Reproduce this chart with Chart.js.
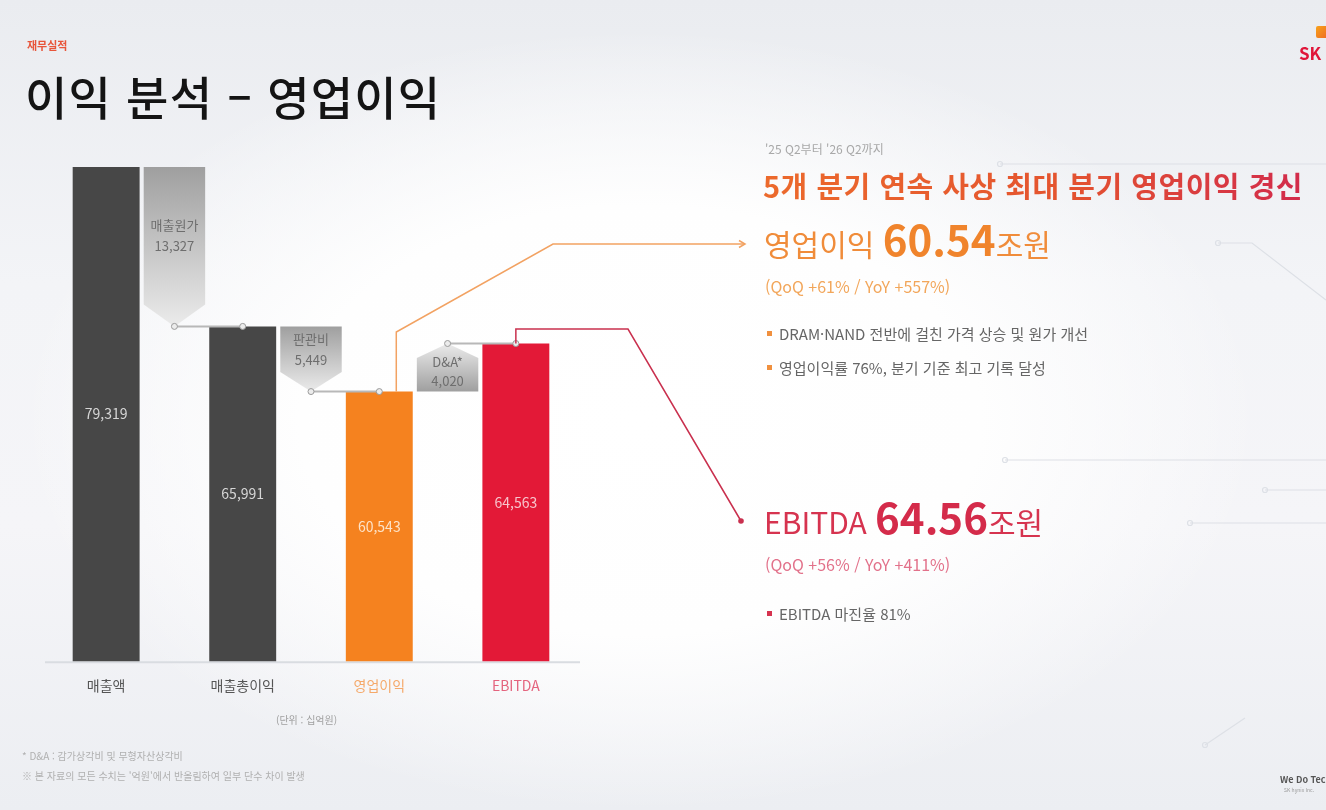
<!DOCTYPE html>
<html lang="ko">
<head>
<meta charset="utf-8">
<title>이익 분석 – 영업이익</title>
<script src="https://cdn.jsdelivr.net/npm/chart.js@4.4.1/dist/chart.umd.min.js"></script>
<style>
  html, body { margin: 0; padding: 0; }
  body {
    width: 1326px; height: 810px; overflow: hidden; position: relative;
    font-family: "Noto Sans CJK KR", "Noto Sans", sans-serif;
    background:
      radial-gradient(ellipse 620px 390px at 640px 420px, #ffffff 0%, #fefefe 55%, rgba(255,255,255,0) 100%),
      linear-gradient(180deg, #eaecf0 0%, #f3f4f7 35%, #f5f5f8 65%, #eceef2 100%);
  }
  #chart { position: absolute; left: 0; top: 0; }
  .t { position: absolute; white-space: nowrap; line-height: 1; }
  .row { position: absolute; display: flex; align-items: baseline; white-space: nowrap; line-height: 1; }
  .row span { line-height: 1; }
  .bullet { position: absolute; width: 5px; height: 5px; }
</style>
</head>
<body>
<canvas id="chart" width="1326" height="810"></canvas>

<div class="t" style="left:27px;top:40px;font-size:11px;font-weight:700;color:#e8553a;">재무실적</div>
<div class="t" style="left:25px;top:72px;font-size:46px;font-weight:500;color:#141414;letter-spacing:1.2px;">이익 분석 – 영업이익</div>

<div class="t" style="left:765px;top:143px;font-size:12px;color:#a8a8a8;">'25 Q2부터 '26 Q2까지</div>
<div class="t" style="left:763px;top:171px;font-size:29px;font-weight:700;letter-spacing:0.5px;background:linear-gradient(90deg,#ec6a2c 0%,#e4542f 55%,#d22b4b 100%);-webkit-background-clip:text;background-clip:text;color:transparent;">5개 분기 연속 사상 최대 분기 영업이익 경신</div>

<div class="row" style="left:764px;top:217px;color:#f08c3a;">
  <span style="font-size:30px;">영업이익&nbsp;</span><span style="font-size:42px;font-weight:700;color:#f0842c;">60.54</span><span style="font-size:30px;">조원</span>
</div>
<div class="t" style="left:765px;top:278px;font-size:16px;color:#f2a65a;">(QoQ +61% / YoY +557%)</div>
<div class="bullet" style="left:767px;top:331px;background:#f0903e;"></div>
<div class="t" style="left:779px;top:326px;font-size:15px;color:#666;">DRAM·NAND 전반에 걸친 가격 상승 및 원가 개선</div>
<div class="bullet" style="left:767px;top:365px;background:#f0903e;"></div>
<div class="t" style="left:779px;top:360px;font-size:15px;color:#666;">영업이익률 76%, 분기 기준 최고 기록 달성</div>

<div class="row" style="left:764px;top:495px;color:#d6334f;">
  <span style="font-size:30px;">EBITDA&nbsp;</span><span style="font-size:42px;font-weight:700;color:#d42b4a;">64.56</span><span style="font-size:30px;">조원</span>
</div>
<div class="t" style="left:765px;top:556px;font-size:16px;color:#e2718a;">(QoQ +56% / YoY +411%)</div>
<div class="bullet" style="left:767px;top:611px;background:#d6334f;"></div>
<div class="t" style="left:779px;top:606px;font-size:15px;color:#666;">EBITDA 마진율 81%</div>

<div class="t" style="left:276px;top:715px;font-size:10px;color:#a0a0a0;">(단위 : 십억원)</div>
<div class="t" style="left:22px;top:751px;font-size:10px;color:#b0b0b0;">* D&amp;A : 감가상각비 및 무형자산상각비</div>
<div class="t" style="left:22px;top:771px;font-size:10px;color:#b0b0b0;">※ 본 자료의 모든 수치는 '억원'에서 반올림하여 일부 단수 차이 발생</div>

<div style="position:absolute;left:1316px;top:26px;width:12px;height:12px;background:linear-gradient(135deg,#f7a21b,#ef6a22);border-radius:2px;"></div>
<div class="t" style="left:1299px;top:44px;font-size:17px;font-weight:700;color:#e0163a;">SK</div>
<div class="t" style="left:1280px;top:775px;font-size:9px;font-weight:700;color:#555;">We Do Technology</div>
<div class="t" style="left:1284px;top:787px;font-size:5px;color:#999;">SK hynix Inc.</div>

<script>
// 단위: 십억원
const categories = ['매출액', '매출총이익', '영업이익', 'EBITDA'];
const totals = [79319, 65991, 60543, 64563];
const stepNames = ['매출원가', '판관비', 'D&A*'];
const stepValues = [13327, 5449, 4020];
const barColors = ['#474747', '#474747', '#f5821f', '#e31937'];
const tickColors = ['#555555', '#555555', '#f5a96a', '#e4647e'];
const valueColors = ['#d6d6d6', '#d6d6d6', '#fde3c8', '#f7c4cc'];

// 막대 4개 + 사이 화살표 3개 = 7칸
const slotLabels = [];
const totalData = [];
const stepData = [];
const slotColors = [];
const slotTickColors = [];
categories.forEach((c, i) => {
  slotLabels.push(c);
  totalData.push(totals[i]);
  stepData.push(null);
  slotColors.push(barColors[i]);
  slotTickColors.push(tickColors[i]);
  if (i < stepValues.length) {
    slotLabels.push('');
    totalData.push(null);
    stepData.push([totals[i], totals[i + 1]]);
    slotColors.push('rgba(0,0,0,0)');
    slotTickColors.push('#000');
  }
});

const connectors = stepValues.map((v, i) => {
  const d = new Array(slotLabels.length).fill(null);
  d[2 * i + 1] = totals[i + 1];
  d[2 * i + 2] = totals[i + 1];
  return {
    type: 'line', data: d, order: 0,
    borderColor: '#b8b8b8', borderWidth: 2,
    pointRadius: 3, pointBackgroundColor: '#ececec',
    pointBorderColor: '#9a9a9a', pointBorderWidth: 1
  };
});

const FONT = '"Noto Sans CJK KR", "Noto Sans", sans-serif';
const fmt = v => v.toLocaleString('en-US');

const waterfallPlugin = {
  id: 'waterfall',
  beforeDraw(chart) {
    // 배경 장식 선
    const c = chart.ctx;
    c.save();
    c.strokeStyle = '#dde0e6';
    c.lineWidth = 1.2;
    const segs = [
      [[1000, 164], [1326, 164]],
      [[1218, 243], [1252, 243], [1326, 300]],
      [[1005, 460], [1326, 460]],
      [[1265, 490], [1326, 490]],
      [[1190, 523], [1326, 523]],
      [[1205, 745], [1245, 718]]
    ];
    segs.forEach(s => {
      c.beginPath();
      c.moveTo(s[0][0], s[0][1]);
      s.slice(1).forEach(p => c.lineTo(p[0], p[1]));
      c.stroke();
      c.beginPath();
      c.arc(s[0][0], s[0][1], 2.5, 0, Math.PI * 2);
      c.stroke();
    });
    c.restore();
  },
  beforeDatasetsDraw(chart) {
    const c = chart.ctx;
    const area = chart.chartArea;
    c.save();
    // 기준선
    c.strokeStyle = '#d9dce1';
    c.lineWidth = 2;
    c.beginPath();
    c.moveTo(area.left - 27, area.bottom + 1);
    c.lineTo(area.right + 30, area.bottom + 1);
    c.stroke();

    // 증감 화살표
    const meta = chart.getDatasetMeta(1);
    let k = 0;
    meta.data.forEach((el, idx) => {
      if (stepData[idx] === null) return;
      const i = k++;
      const p = el.getProps(['x', 'y', 'base', 'width'], true);
      const top = Math.min(p.y, p.base);
      const bottom = Math.max(p.y, p.base);
      const left = p.x - p.width / 2;
      const right = p.x + p.width / 2;
      const tip = Math.min(22, (bottom - top) * 0.3);
      const down = totals[i + 1] < totals[i];
      const g = c.createLinearGradient(0, down ? top : bottom, 0, down ? bottom : top);
      g.addColorStop(0, '#9f9f9f');
      g.addColorStop(1, '#ebebeb');
      c.fillStyle = g;
      c.beginPath();
      if (down) {
        c.moveTo(left, top);
        c.lineTo(right, top);
        c.lineTo(right, bottom - tip);
        c.lineTo(p.x, bottom);
        c.lineTo(left, bottom - tip);
      } else {
        c.moveTo(p.x, top);
        c.lineTo(right, top + tip);
        c.lineTo(right, bottom);
        c.lineTo(left, bottom);
        c.lineTo(left, top + tip);
      }
      c.closePath();
      c.fill();
      const mid = down ? (top + bottom - tip) / 2 : (top + tip * 0.6 + bottom) / 2;
      const gap = down ? 10.5 : 9.5;
      c.fillStyle = '#6e6e6e';
      c.font = '13px ' + FONT;
      c.textAlign = 'center';
      c.textBaseline = 'middle';
      c.fillText(stepNames[i], p.x, mid - gap);
      c.fillText(fmt(stepValues[i]), p.x, mid + gap);
    });
    c.restore();
  },
  afterDatasetsDraw(chart) {
    const c = chart.ctx;
    const area = chart.chartArea;
    const meta = chart.getDatasetMeta(0);
    c.save();
    c.font = '14px ' + FONT;
    c.textAlign = 'center';
    c.textBaseline = 'middle';
    let k = 0;
    meta.data.forEach((el, idx) => {
      if (totalData[idx] === null) return;
      const i = k++;
      const p = el.getProps(['x', 'y', 'base'], true);
      const base = Math.min(p.base, area.bottom);
      c.fillStyle = valueColors[i];
      c.fillText(fmt(totals[i]), p.x, (p.y + base) / 2);
    });

    // 영업이익 / EBITDA 지시선
    const op = meta.data[4].getProps(['x', 'y'], true);
    const eb = meta.data[6].getProps(['x', 'y'], true);
    c.lineWidth = 1.5;
    c.strokeStyle = '#f2a262';
    c.beginPath();
    c.moveTo(op.x + 17, op.y);
    c.lineTo(op.x + 17, 332);
    c.lineTo(553, 244);
    c.lineTo(745, 244);
    c.stroke();
    c.beginPath();
    c.moveTo(739, 240.5);
    c.lineTo(745, 244);
    c.lineTo(739, 247.5);
    c.stroke();

    c.strokeStyle = '#c9304e';
    c.beginPath();
    c.moveTo(eb.x, eb.y);
    c.lineTo(eb.x, 329);
    c.lineTo(628, 329);
    c.lineTo(741, 521);
    c.stroke();
    c.fillStyle = '#c9304e';
    c.beginPath();
    c.arc(741, 521, 2.8, 0, Math.PI * 2);
    c.fill();
    c.restore();
  }
};

new Chart(document.getElementById('chart').getContext('2d'), {
  type: 'bar',
  data: {
    labels: slotLabels,
    datasets: [
      {
        data: totalData, order: 2, grouped: false,
        backgroundColor: slotColors,
        barPercentage: 0.98, categoryPercentage: 1
      },
      {
        data: stepData, order: 3, grouped: false,
        backgroundColor: 'rgba(0,0,0,0)',
        barPercentage: 0.9, categoryPercentage: 1
      },
      ...connectors
    ]
  },
  options: {
    responsive: false,
    animation: false,
    layout: { padding: { left: 72, right: 776, top: 167, bottom: 100 } },
    plugins: { legend: { display: false }, tooltip: { enabled: false } },
    scales: {
      x: {
        grid: { display: false, drawTicks: false },
        border: { display: false },
        ticks: {
          color: ctx => slotTickColors[ctx.index],
          font: { family: FONT, size: 14 },
          padding: 16, autoSkip: false, maxRotation: 0
        }
      },
      y: { display: false, min: 38000, max: Math.max(...totals) }
    }
  },
  plugins: [waterfallPlugin]
});
</script>
</body>
</html>
